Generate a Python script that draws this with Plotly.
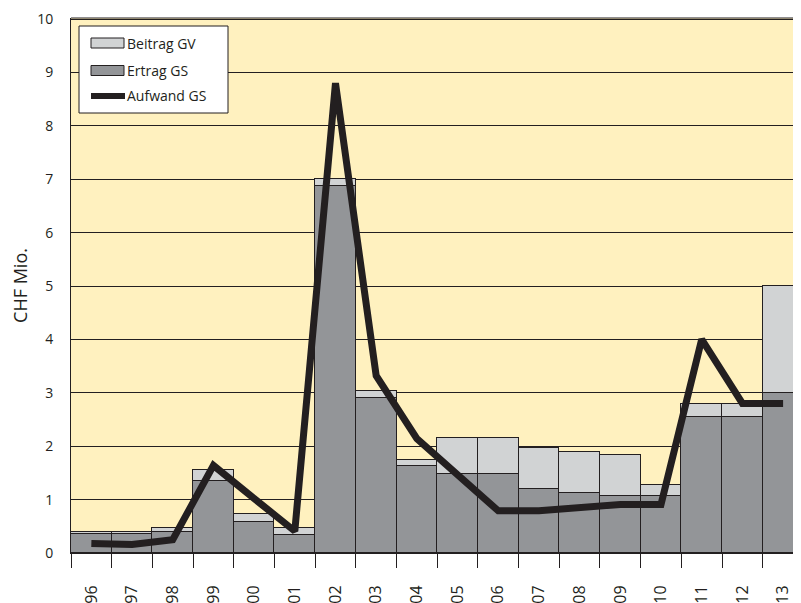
import plotly.graph_objects as go

years = ["96", "97", "98", "99", "00", "01", "02", "03", "04", "05",
         "06", "07", "08", "09", "10", "11", "12", "13"]
ertrag_gs = [0.35, 0.35, 0.40, 1.34, 0.59, 0.34, 6.88, 2.90, 1.63, 1.48,
             1.48, 1.19, 1.13, 1.07, 1.07, 2.54, 2.54, 3.00]
beitrag_gv = [0.05, 0.05, 0.07, 0.22, 0.14, 0.12, 0.12, 0.13, 0.12, 0.68,
              0.68, 0.77, 0.77, 0.76, 0.20, 0.26, 0.26, 2.00]
aufwand_gs = [0.18, 0.16, 0.25, 1.64, 1.02, 0.41, 8.80, 3.32, 2.14, 1.46,
              0.79, 0.79, 0.85, 0.91, 0.91, 4.00, 2.80, 2.80]

DARK = "#231F20"
LIGHT_GRAY = "#D1D3D4"
MID_GRAY = "#939598"
BG = "#FFF1BF"
FONT = "Open Sans"

# page body has an 8px margin; figure sized to fill the rest of the window
OFF = 8
W, H = 801 - OFF, 603 - OFF
ML, MR, MT, MB = 71 - OFF, 0, 18 - OFF, 50
PW, PH = W - ML - MR, H - MT - MB


def px(x):
    return (x - OFF - ML) / PW


def py(y):
    return (H - MB - (y - OFF)) / PH


fig = go.Figure()
fig.add_trace(go.Bar(x=years, y=ertrag_gs, name="Ertrag GS",
                     marker=dict(color=MID_GRAY, line=dict(color=DARK, width=1)),
                     showlegend=False))
fig.add_trace(go.Bar(x=years, y=beitrag_gv, name="Beitrag GV",
                     marker=dict(color=LIGHT_GRAY, line=dict(color=DARK, width=1)),
                     showlegend=False))
fig.add_trace(go.Scatter(x=years, y=aufwand_gs, name="Aufwand GS", mode="lines",
                         line=dict(color=DARK, width=7), showlegend=False))

shapes = []
annotations = []
# custom legend box
shapes.append(dict(type="rect", xref="paper", yref="paper",
                   x0=px(79), x1=px(228), y0=py(113), y1=py(26),
                   fillcolor="white", line=dict(color=DARK, width=1), layer="above"))
legend_items = [("Beitrag GV", LIGHT_GRAY, "box", 43),
                ("Ertrag GS", MID_GRAY, "box", 70.5),
                ("Aufwand GS", DARK, "line", 96)]
for label, col, kind, yc in legend_items:
    if kind == "box":
        shapes.append(dict(type="rect", xref="paper", yref="paper",
                           x0=px(91), x1=px(124), y0=py(yc + 5), y1=py(yc - 5),
                           fillcolor=col, line=dict(color=DARK, width=1), layer="above"))
    else:
        shapes.append(dict(type="line", xref="paper", yref="paper",
                           x0=px(91), x1=px(125), y0=py(yc), y1=py(yc),
                           line=dict(color=col, width=6), layer="above"))
    annotations.append(dict(text=label, xref="paper", yref="paper",
                            x=px(125), y=py(yc), xanchor="left", yanchor="middle",
                            showarrow=False, font=dict(family=FONT, size=14, color=DARK)))

# top border line at 10
shapes.append(dict(type="line", xref="paper", yref="paper", x0=0, x1=1, y0=py(18), y1=py(18),
                   line=dict(color=DARK, width=1), layer="above"))

fig.update_layout(
    width=W, height=H,
    margin=dict(l=ML, r=MR, t=MT, b=MB, pad=0, autoexpand=False),
    paper_bgcolor="white",
    plot_bgcolor=BG,
    barmode="stack",
    bargap=0,
    font=dict(family=FONT, size=14, color=DARK),
    shapes=shapes,
    annotations=annotations,
    showlegend=False,
)
fig.update_xaxes(
    type="category",
    range=[-0.5, 17.44],
    tickson="boundaries",
    ticks="outside", ticklen=14, tickcolor=DARK, tickwidth=1,
    tickangle=-90,
    ticklabelstandoff=25,
    showline=True, linecolor=DARK, linewidth=1,
    showgrid=False,
    automargin=False,
    tickfont=dict(family=FONT, size=16, color=DARK),
)
fig.update_yaxes(
    range=[0, 10.02],
    tickvals=[0, 1, 2, 3, 4, 5, 6, 7, 8, 9, 10],
    showgrid=True, gridcolor=DARK, gridwidth=1,
    zeroline=False,
    showline=True, linecolor=DARK, linewidth=1,
    ticks="", ticklabelstandoff=14,
    automargin=False,
    tickfont=dict(family=FONT, size=14, color=DARK),
    title=dict(text="CHF Mio.", font=dict(family=FONT, size=18, color=DARK), standoff=17),
)

fig.write_html("out.html")
